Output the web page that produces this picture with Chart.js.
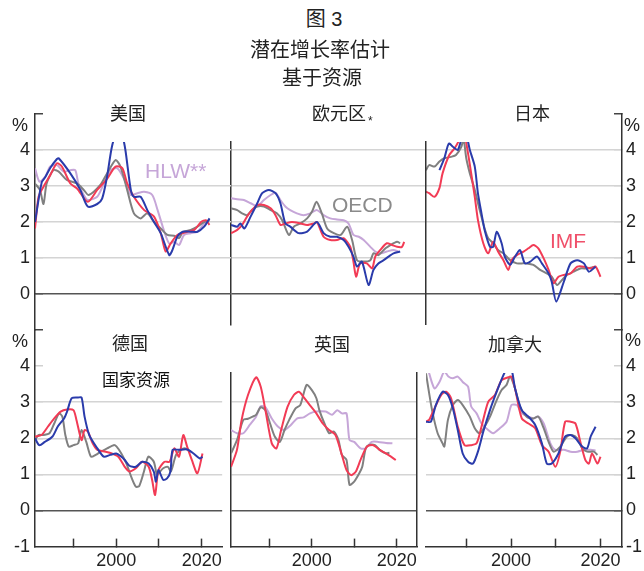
<!DOCTYPE html>
<html><head><meta charset="utf-8">
<script src="https://cdn.jsdelivr.net/npm/chart.js@4.4.0/dist/chart.umd.min.js"></script>
<style>
html,body{margin:0;padding:0;background:#fff;}
#wrap{position:relative;width:644px;height:571px;overflow:hidden;font-family:"Liberation Sans","Noto Sans CJK SC",sans-serif;color:#222;}
#wrap canvas{position:absolute;}
.t{position:absolute;white-space:nowrap;}
.cjk{font-family:"Liberation Sans","Noto Sans CJK SC",sans-serif;}
</style></head><body><div id="wrap">
<div class="t cjk" style="left:174px;width:300px;text-align:center;top:9px;font-size:20px;line-height:20px;">图 3</div>
<div class="t cjk" style="left:170px;width:300px;text-align:center;top:40px;font-size:20px;line-height:20px;">潜在增长率估计</div>
<div class="t cjk" style="left:172px;width:300px;text-align:center;top:68px;font-size:20px;line-height:20px;">基于资源</div>

<div class="t cjk" style="left:78px;width:100px;text-align:center;top:105px;font-size:18px;line-height:18px;">美国</div>
<div class="t cjk" style="left:312px;top:105px;font-size:18px;line-height:18px;">欧元区<span style="font-size:12px;position:relative;top:5px;margin-left:2px;">*</span></div>
<div class="t cjk" style="left:482px;width:100px;text-align:center;top:105px;font-size:18px;line-height:18px;">日本</div>
<div class="t cjk" style="left:80px;width:100px;text-align:center;top:335px;font-size:18px;line-height:18px;">德国</div>
<div class="t cjk" style="left:86px;width:100px;text-align:center;top:372px;font-size:17px;line-height:17px;color:#111;">国家资源</div>
<div class="t cjk" style="left:282px;width:100px;text-align:center;top:336px;font-size:18px;line-height:18px;">英国</div>
<div class="t cjk" style="left:465px;width:100px;text-align:center;top:336px;font-size:18px;line-height:18px;">加拿大</div>

<div class="t" style="left:12px;top:116px;font-size:18px;line-height:18px;">%</div>
<div class="t" style="left:12px;top:332px;font-size:18px;line-height:18px;">%</div>
<div class="t" style="left:624px;top:116px;font-size:18px;line-height:18px;">%</div>
<div class="t" style="left:625px;top:331px;font-size:18px;line-height:18px;">%</div>

<div class="t" style="left:145px;top:160px;font-size:21px;line-height:21px;color:#c6a6d8;">HLW**</div>
<div class="t" style="left:332px;top:194px;font-size:21px;line-height:21px;color:#8a8a8a;">OECD</div>
<div class="t" style="left:550px;top:230px;font-size:21px;line-height:21px;color:#f0506a;">IMF</div>
</div>
<script>
// ---------------- data (year, % per year) ----------------
const xTicks = [1990, 2000, 2010, 2020];
const xLabelYears = [2000, 2020];
const yTicksTop = [0, 1, 2, 3, 4];
const yTicksBottom = [-1, 0, 1, 2, 3, 4];

const usNat = [[1981.0,2.0],[1982.5,3.1],[1983.3,3.25],[1984.4,3.5],[1985.9,3.75],[1986.3,3.77],[1988.9,3.35],[1991.1,2.9],[1992.8,2.43],[1994.9,2.5],[1996.0,2.65],[1997.1,3.26],[1998.2,4.1],[1999.5,4.55],[2000.5,4.4],[2001.2,4.0],[2002.4,2.9],[2003.1,2.7],[2004.6,2.7],[2006.1,2.33],[2007.6,2.0],[2009.1,1.69],[2011.0,1.08],[2011.7,1.22],[2012.8,1.59],[2014.0,1.73],[2015.8,1.73],[2017.3,1.73],[2018.8,1.87],[2020.0,2.1]];
const usIMF = [[1981.0,1.82],[1981.8,2.7],[1982.9,2.98],[1984.4,3.3],[1985.9,3.63],[1987.0,3.54],[1988.9,3.07],[1990.4,2.93],[1992.8,2.56],[1994.9,2.89],[1997.1,3.2],[1999.0,3.54],[2000.5,3.5],[2001.6,3.07],[2003.1,2.7],[2005.4,2.33],[2007.6,2.15],[2009.1,1.69],[2010.2,1.18],[2011.3,1.4],[2012.8,1.64],[2015.1,1.73],[2016.6,1.78],[2018.1,2.0],[2019.2,2.05],[2020.0,1.92]];
const usOECD = [[1981.0,3.07],[1982.1,2.89],[1982.9,2.5],[1983.6,3.07],[1985.1,3.44],[1986.3,3.4],[1988.1,3.17],[1990.4,3.07],[1991.9,2.89],[1993.0,2.75],[1995.6,3.03],[1997.1,3.35],[1999.0,3.72],[2000.1,3.54],[2001.6,2.89],[2003.1,2.24],[2004.6,2.1],[2006.1,2.24],[2007.6,2.0],[2009.1,1.82],[2010.6,1.64],[2012.1,1.62],[2013.2,1.55],[2014.0,1.72],[2015.8,1.78],[2017.3,1.87],[2018.8,2.0],[2020.0,2.05]];
const usHLW = [[1981.0,3.49],[1982.0,3.12],[1983.3,3.26],[1984.4,3.54],[1985.9,3.58],[1987.4,3.4],[1988.9,3.44],[1990.0,3.44],[1990.7,3.07],[1991.9,2.75],[1992.8,2.61],[1994.9,2.7],[1996.4,3.07],[1997.9,3.44],[1999.4,3.49],[2000.9,3.2],[2002.4,2.75],[2003.9,2.8],[2005.4,2.84],[2007.2,2.75],[2008.4,2.33],[2009.9,1.73],[2011.0,1.4],[2012.1,1.45],[2013.2,1.36],[2014.3,1.64],[2015.8,1.69],[2017.3,1.73],[2018.8,1.96],[2019.2,2.0]];

const euNat = [[1981.0,1.92],[1982.4,1.87],[1983.1,1.96],[1984.0,1.82],[1985.4,2.15],[1986.9,2.52],[1988.0,2.8],[1989.5,2.89],[1991.0,2.8],[1992.1,2.52],[1993.2,1.96],[1994.3,1.87],[1996.2,1.69],[1998.1,1.73],[2000.3,2.0],[2001.8,1.69],[2003.3,1.59],[2004.8,1.59],[2006.3,1.5],[2007.4,1.31],[2008.5,1.04],[2009.3,0.76],[2010.4,0.9],[2011.9,0.25],[2013.0,0.67],[2014.1,0.85],[2015.3,0.94],[2016.4,1.04],[2017.5,1.13],[2019.0,1.18]];
const euIMF = [[1981.0,1.69],[1982.4,1.78],[1983.5,1.92],[1984.6,2.15],[1985.7,2.33],[1986.9,2.47],[1988.4,2.47],[1989.9,2.38],[1991.0,2.19],[1992.1,1.92],[1993.2,1.96],[1994.7,2.0],[1996.6,1.96],[1998.1,1.92],[1999.6,1.96],[2000.3,2.0],[2001.8,1.59],[2003.3,1.5],[2004.8,1.5],[2006.3,1.55],[2007.8,1.31],[2008.5,0.9],[2009.1,0.48],[2010.0,0.85],[2011.5,0.85],[2012.7,0.71],[2013.4,1.04],[2014.5,1.22],[2016.0,1.41],[2017.2,1.36],[2018.3,1.31],[2019.4,1.31],[2019.9,1.45]];
const euOECD = [[1981.0,2.38],[1982.4,2.33],[1983.5,2.24],[1984.6,2.19],[1985.7,2.33],[1986.9,2.43],[1988.4,2.43],[1989.9,2.33],[1991.3,2.24],[1992.5,2.05],[1994.0,1.64],[1995.1,1.87],[1996.6,1.96],[1998.1,2.1],[1999.2,2.29],[2000.2,2.56],[2001.4,2.24],[2002.6,1.82],[2004.1,1.69],[2005.6,1.64],[2007.1,1.87],[2008.2,1.5],[2009.3,0.94],[2010.8,0.9],[2012.3,0.94],[2013.0,1.13],[2014.1,1.08],[2015.7,1.27],[2016.8,1.36],[2018.3,1.45],[2019.0,1.41]];
const euHLW = [[1981.0,2.66],[1982.4,2.63],[1983.9,2.61],[1985.4,2.52],[1986.9,2.44],[1988.4,2.61],[1989.9,2.75],[1991.0,2.81],[1992.1,2.61],[1993.2,2.43],[1994.3,2.33],[1995.8,2.24],[1997.3,2.19],[1998.8,2.24],[2000.3,2.33],[2001.8,2.19],[2003.3,2.1],[2004.8,2.07],[2006.3,2.05],[2007.4,1.96],[2008.5,1.64],[2009.7,1.59],[2010.8,1.5],[2012.3,1.31],[2013.4,1.18],[2014.5,1.13],[2016.0,1.18],[2017.5,1.22],[2018.6,1.18]];

const jpNat = [[1984.0,3.44],[1985.1,3.77],[1986.1,4.18],[1987.0,4.09],[1988.1,4.0],[1989.2,4.4],[1990.0,4.4],[1990.8,4.0],[1991.9,3.54],[1992.6,2.8],[1993.4,2.24],[1994.1,1.78],[1995.3,1.31],[1996.0,1.31],[1996.8,1.73],[1997.9,1.41],[1998.6,1.04],[1999.8,0.81],[2000.9,1.04],[2002.0,1.22],[2003.1,0.85],[2004.3,0.9],[2005.8,1.04],[2006.9,0.85],[2008.4,0.57],[2009.1,0.34],[2010.1,-0.21],[2011.8,0.34],[2013.3,0.85],[2014.8,0.94],[2016.3,0.85],[2017.4,0.62],[2018.9,0.76]];
const jpIMF = [[1981.0,2.84],[1981.7,2.8],[1982.9,2.7],[1984.0,2.94],[1984.7,3.35],[1986.2,3.86],[1987.4,4.05],[1988.5,4.3],[1989.3,4.6],[1990.4,3.9],[1991.1,3.35],[1991.9,2.7],[1992.6,2.06],[1993.8,1.41],[1994.9,1.13],[1996.0,1.45],[1997.1,1.18],[1998.3,0.94],[1999.4,0.67],[2000.1,0.94],[2001.3,1.08],[2002.8,1.18],[2003.9,1.27],[2005.0,1.36],[2006.1,1.27],[2007.3,0.99],[2008.4,0.67],[2009.5,0.3],[2010.6,0.48],[2011.8,0.53],[2013.3,0.57],[2014.8,0.76],[2016.3,0.76],[2017.8,0.71],[2018.9,0.76],[2020.0,0.48]];
const jpOECD = [[1981.0,3.44],[1981.7,3.58],[1982.9,3.54],[1984.0,3.68],[1985.1,3.77],[1986.6,3.81],[1987.7,3.86],[1988.9,4.09],[1989.4,4.3],[1990.0,3.77],[1990.8,3.35],[1991.9,2.89],[1993.0,2.33],[1994.1,1.82],[1994.9,1.55],[1996.0,1.41],[1997.1,1.22],[1998.3,1.13],[1999.8,0.94],[2001.3,0.85],[2002.4,0.85],[2003.5,0.85],[2005.0,0.81],[2006.5,0.67],[2008.0,0.57],[2009.1,0.48],[2010.3,0.25],[2011.4,0.39],[2012.5,0.53],[2014.0,0.62],[2015.5,0.71],[2017.0,0.71],[2018.9,0.76]];

const deNat = [[1981.0,2.0],[1982.0,1.81],[1983.3,1.9],[1985.1,2.05],[1986.3,2.32],[1987.8,2.55],[1988.5,2.74],[1989.6,3.11],[1991.1,3.13],[1991.9,3.13],[1992.6,2.6],[1993.7,2.09],[1995.6,1.72],[1997.1,1.49],[1998.6,1.54],[2000.0,1.58],[2001.2,1.49],[2002.0,1.4],[2003.1,1.24],[2004.6,1.21],[2006.1,1.35],[2007.6,1.3],[2008.8,1.08],[2009.3,0.8],[2009.9,1.12],[2011.0,0.85],[2011.9,0.89],[2012.7,1.08],[2013.2,1.68],[2014.7,1.68],[2016.6,1.69],[2018.1,1.58],[2019.6,1.44],[2020.2,1.49]];
const deIMF = [[1981.0,2.05],[1982.5,2.09],[1984.0,2.32],[1985.5,2.55],[1987.0,2.74],[1988.5,2.8],[1990.0,2.78],[1990.7,2.51],[1991.9,1.95],[1992.6,2.23],[1993.4,2.18],[1994.5,1.86],[1995.6,1.68],[1997.5,1.63],[1999.0,1.58],[2000.5,1.49],[2002.0,1.21],[2003.1,1.08],[2004.6,1.17],[2006.1,1.35],[2007.6,1.21],[2008.4,0.85],[2009.1,0.43],[2009.9,1.12],[2011.3,1.35],[2012.5,1.35],[2013.6,1.72],[2014.7,1.49],[2015.7,2.09],[2016.6,1.77],[2017.7,1.4],[2019.0,1.03],[2020.2,1.58]];
const deOECD = [[1981.0,1.95],[1981.8,2.09],[1982.9,2.09],[1984.4,2.14],[1985.5,2.41],[1986.6,2.69],[1987.4,2.6],[1988.1,2.09],[1988.9,1.77],[1990.0,1.81],[1991.1,1.86],[1991.9,2.23],[1993.0,1.9],[1994.1,1.49],[1995.2,1.54],[1996.4,1.63],[1997.9,1.72],[1999.4,1.81],[2000.1,1.77],[2001.2,1.58],[2002.4,1.3],[2003.5,0.94],[2004.6,0.66],[2005.4,0.68],[2006.5,1.08],[2007.5,1.49],[2008.8,1.35],[2009.5,0.99],[2009.9,1.03],[2011.0,1.17],[2012.1,1.21],[2012.8,1.08],[2014.0,1.54],[2015.1,1.68],[2016.2,1.72],[2017.3,1.63]];

const ukIMF = [[1981.0,1.21],[1982.4,1.68],[1983.5,2.51],[1985.0,3.2],[1986.9,3.69],[1988.0,3.43],[1989.1,2.78],[1990.6,1.86],[1991.7,1.72],[1992.8,2.23],[1994.3,2.87],[1995.8,3.2],[1997.0,3.29],[1998.1,3.14],[1999.6,2.91],[2001.1,2.69],[2002.6,2.41],[2004.1,2.23],[2005.6,2.09],[2007.1,1.54],[2008.2,1.12],[2009.3,0.98],[2010.4,1.08],[2011.5,1.4],[2013.0,1.77],[2014.5,1.81],[2016.0,1.68],[2017.5,1.58],[2019.8,1.4]];
const ukOECD = [[1981.0,1.58],[1982.4,1.95],[1983.9,2.51],[1985.0,2.54],[1986.1,2.6],[1986.9,2.65],[1988.0,2.86],[1989.1,2.78],[1990.2,2.41],[1991.3,2.05],[1992.5,1.9],[1993.6,2.23],[1994.7,2.51],[1996.2,2.83],[1997.3,2.92],[1998.8,3.48],[2000.0,3.34],[2001.1,3.11],[2001.8,2.78],[2003.0,2.41],[2004.1,2.14],[2005.2,2.19],[2006.3,1.95],[2007.1,1.54],[2008.2,1.4],[2008.9,0.71],[2010.0,0.8],[2011.2,1.03],[2011.9,1.21],[2012.7,1.72],[2013.4,1.81],[2014.9,1.81],[2016.0,1.68],[2017.5,1.58],[2018.3,1.6]];
const ukHLW = [[1981.0,2.23],[1982.4,2.14],[1983.9,2.14],[1985.4,2.37],[1986.9,2.6],[1988.0,2.89],[1989.1,2.86],[1990.6,2.55],[1992.1,2.32],[1993.6,2.23],[1995.1,2.37],[1996.6,2.55],[1998.1,2.58],[1999.6,2.69],[2001.1,2.74],[2003.3,2.74],[2004.8,2.65],[2006.0,2.78],[2007.1,2.69],[2008.2,2.69],[2008.9,1.95],[2010.0,1.9],[2011.5,1.72],[2012.7,1.72],[2014.1,1.9],[2015.7,1.9],[2017.5,1.87],[2019.0,1.86]];

const caNat = [[1981.0,2.46],[1982.1,2.46],[1983.2,2.92],[1984.7,3.29],[1985.9,3.2],[1987.0,2.83],[1988.1,2.23],[1989.2,1.58],[1990.4,1.35],[1991.5,1.3],[1992.6,1.63],[1993.8,2.18],[1995.3,2.78],[1996.8,3.29],[1998.3,3.75],[1999.0,3.9],[2000.1,3.9],[2000.9,3.38],[2002.4,2.78],[2003.9,2.6],[2005.4,2.37],[2006.9,1.86],[2008.0,1.3],[2009.1,1.3],[2010.6,1.58],[2012.1,2.05],[2013.3,2.09],[2014.4,2.0],[2015.9,1.77],[2017.0,1.72],[2017.8,2.05],[2018.9,2.32]];
const caIMF = [[1981.0,2.46],[1981.7,2.51],[1982.9,2.83],[1984.4,3.2],[1985.5,3.29],[1986.6,3.11],[1988.1,2.32],[1989.6,1.81],[1991.1,1.81],[1992.3,1.86],[1993.4,2.32],[1994.9,3.01],[1996.4,3.2],[1997.9,3.61],[1999.4,3.69],[2000.1,3.71],[2000.9,3.38],[2002.4,2.55],[2003.9,2.41],[2005.4,2.28],[2006.9,1.81],[2008.4,1.63],[2009.9,1.21],[2011.0,1.63],[2012.1,2.46],[2013.3,2.46],[2014.4,2.41],[2015.5,1.9],[2016.6,1.4],[2017.4,1.3],[2018.1,1.58],[2019.3,1.3],[2020.0,1.49]];
const caOECD = [[1981.0,3.8],[1981.7,3.25],[1982.5,2.69],[1983.6,2.14],[1984.7,1.86],[1985.1,1.77],[1985.9,2.51],[1987.0,2.92],[1988.1,3.06],[1989.2,2.92],[1990.8,2.6],[1991.9,2.28],[1993.0,2.14],[1994.1,2.32],[1995.3,2.6],[1996.8,3.06],[1997.9,3.34],[1999.0,3.48],[1999.8,3.71],[2000.9,3.38],[2002.0,2.88],[2003.5,2.6],[2005.0,2.55],[2006.1,2.6],[2007.3,2.28],[2008.4,1.9],[2009.5,1.63],[2011.0,1.77],[2012.5,2.05],[2013.6,2.09],[2014.8,2.0],[2015.9,1.72],[2017.0,1.63],[2018.5,1.63],[2019.3,1.54]];
const caHLW = [[1981.3,4.0],[1981.7,3.8],[1982.9,3.38],[1984.0,3.56],[1985.1,3.85],[1986.0,3.71],[1987.0,3.66],[1988.1,3.71],[1989.2,3.56],[1990.4,3.43],[1991.1,2.88],[1992.3,2.69],[1993.4,2.41],[1994.9,2.23],[1996.0,2.14],[1997.5,2.28],[1999.0,2.46],[2000.1,2.92],[2001.3,2.92],[2002.4,2.69],[2003.9,2.6],[2005.0,2.55],[2006.1,2.6],[2007.3,2.41],[2008.8,1.86],[2009.9,1.68],[2011.8,1.68],[2013.3,1.63],[2014.8,1.63],[2016.3,1.68],[2017.8,1.68],[2018.9,1.66]];

// ---------------- styling / layout ----------------
const COLORS = {nat:'#2a3bab', imf:'#f23b55', oecd:'#808080', hlw:'#c6a6d8'};
const FONT = "'Liberation Sans', Arial, sans-serif";
const COLS = [[35,231],[231,426],[426,622]];
const ROWS = [
  {zero:294, unit:36, outer:[-1,5], inner:[-0.85,4.222]},
  {zero:510.5, unit:36.1, outer:[-1,5], inner:[-1,3.81]}
];
const X_MIN = 1981.0, X_MAX = 2024.8;
const MARGIN = 30;

function gridCol(v, row){
  if (v === 0) return '#555555';
  if (v === 5 || v === -1) return 'rgba(0,0,0,0)';
  if (row === 1 && v === 4) return 'rgba(0,0,0,0)';
  return '#d4d4d4';
}
function tickCol(v, row){
  if (v === 5) return '#444444';
  if (v === -1) return 'rgba(0,0,0,0)';
  if (row === 1 && v === 4) return '#d0d0d0';
  return gridCol(v, row);
}

function build(p){
  const [ax0, ax1] = COLS[p.col];
  const R = ROWS[p.row];
  const outer = !!(p.left || p.right);
  const [ymin, ymax] = outer ? R.outer : R.inner;
  const yOf = v => R.zero - R.unit * v;
  const aTop = yOf(ymax), aBot = yOf(ymin);
  const clipTop = outer ? -(yOf(R.inner[1]) - aTop) : 0;
  const lw = p.left ? 35 : 0, rw = p.right ? 22 : 0;
  const padL = p.left ? 0 : 3, padR = p.right ? 0 : 3;
  const cLeft = ax0 - lw - padL, cRight = ax1 + rw + padR;
  const cTop = Math.floor(aTop - MARGIN);
  const padTop = aTop - cTop;
  const xlab = p.row === 1;
  const cBottom = xlab ? 571 : Math.ceil(aBot + MARGIN);
  const padBot = xlab ? 0 : cBottom - aBot;
  const xh = 571 - aBot;
  const W = cRight - cLeft, H = cBottom - cTop;
  const cv = document.createElement('canvas');
  cv.width = W; cv.height = H;
  cv.style.left = cLeft + 'px'; cv.style.top = cTop + 'px';
  cv.style.width = W + 'px'; cv.style.height = H + 'px';
  const wrap = document.getElementById('wrap');
  wrap.insertBefore(cv, wrap.firstChild);

  const yTickVals = (p.row === 0 ? yTicksTop : yTicksBottom).filter(v => v <= ymax + 1e-9 && v >= ymin - 1e-9);
  if (outer) yTickVals.push(5);
  const yBase = {
    type:'linear', min:ymin, max:ymax,
    afterBuildTicks: s => { s.ticks = yTickVals.map(v => ({value:v})); },
    border:{display:true, color:'#333333', width:1.5},
  };
  const scales = {
    x: {
      type:'linear', min:X_MIN, max:X_MAX, display: xlab,
      afterBuildTicks: s => { s.ticks = xTicks.map(v => ({value:v})); },
      ticks:{ autoSkip:false, maxRotation:0, padding:12, color:'#222',
        font:{family:FONT, size:18},
        callback: v => xLabelYears.includes(v) ? String(v) : '' },
      grid:{ drawOnChartArea:false, drawTicks:true, tickLength:-8, tickColor:'#333333', tickWidth:1.5 },
      border:{display:true, color:'#333333', width:1.5},
      afterFit: s => { s.height = xlab ? xh : 0; }
    }
  };
  if (outer) {
    scales.y = Object.assign({}, yBase, {
      position: p.left ? 'left' : 'right',
      ticks:{ display:true, padding: p.left ? 13 : 12, color:'#222', font:{family:FONT, size:18},
        callback: v => v === 5 ? '' : String(v) },
      grid:{ color: c => gridCol(c.tick.value, p.row), lineWidth:1.5, drawTicks:true, tickLength:-8,
        tickColor: c => tickCol(c.tick.value, p.row), tickWidth:1.5 },
      afterFit: s => { s.width = p.left ? lw : rw; }
    });
  } else {
    scales.y = Object.assign({}, yBase, {
      position:'left',
      ticks:{display:false},
      grid:{ color: c => gridCol(c.tick.value, p.row), lineWidth:1.5, drawTicks:false },
      afterFit: s => { s.width = 0; }
    });
    scales.y2 = Object.assign({}, yBase, {
      position:'right',
      ticks:{display:false},
      grid:{ drawOnChartArea:false, drawTicks:false },
      afterFit: s => { s.width = 0; }
    });
  }

  const datasets = p.series.map(s => ({
    label: s.name,
    data: s.data.map(d => ({x:d[0], y:d[1]})),
    borderColor: COLORS[s.kind],
    borderWidth: 2,
    pointRadius: 0,
    tension: 0.25,
    fill: false,
    borderJoinStyle: 'round',
    clip: {left:0, right:0, bottom:0, top:clipTop}
  }));

  new Chart(cv, {
    type:'line',
    data:{datasets},
    options:{
      responsive:false, animation:false, events:[],
      layout:{ autoPadding:false, padding:{left:padL, right:padR, top:padTop, bottom:padBot} },
      plugins:{ legend:{display:false}, tooltip:{enabled:false}, title:{display:false} },
      scales
    }
  });
}

const panels = [
  {col:0,row:0,left:true, series:[{name:'国家资源',kind:'nat',data:usNat},{name:'IMF',kind:'imf',data:usIMF},{name:'OECD',kind:'oecd',data:usOECD},{name:'HLW',kind:'hlw',data:usHLW}]},
  {col:1,row:0, series:[{name:'国家资源',kind:'nat',data:euNat},{name:'IMF',kind:'imf',data:euIMF},{name:'OECD',kind:'oecd',data:euOECD},{name:'HLW',kind:'hlw',data:euHLW}]},
  {col:2,row:0,right:true, series:[{name:'国家资源',kind:'nat',data:jpNat},{name:'IMF',kind:'imf',data:jpIMF},{name:'OECD',kind:'oecd',data:jpOECD}]},
  {col:0,row:1,left:true, series:[{name:'国家资源',kind:'nat',data:deNat},{name:'IMF',kind:'imf',data:deIMF},{name:'OECD',kind:'oecd',data:deOECD}]},
  {col:1,row:1, series:[{name:'IMF',kind:'imf',data:ukIMF},{name:'OECD',kind:'oecd',data:ukOECD},{name:'HLW',kind:'hlw',data:ukHLW}]},
  {col:2,row:1,right:true, series:[{name:'国家资源',kind:'nat',data:caNat},{name:'IMF',kind:'imf',data:caIMF},{name:'OECD',kind:'oecd',data:caOECD},{name:'HLW',kind:'hlw',data:caHLW}]}
];
panels.forEach(build);
</script>
</body></html>
